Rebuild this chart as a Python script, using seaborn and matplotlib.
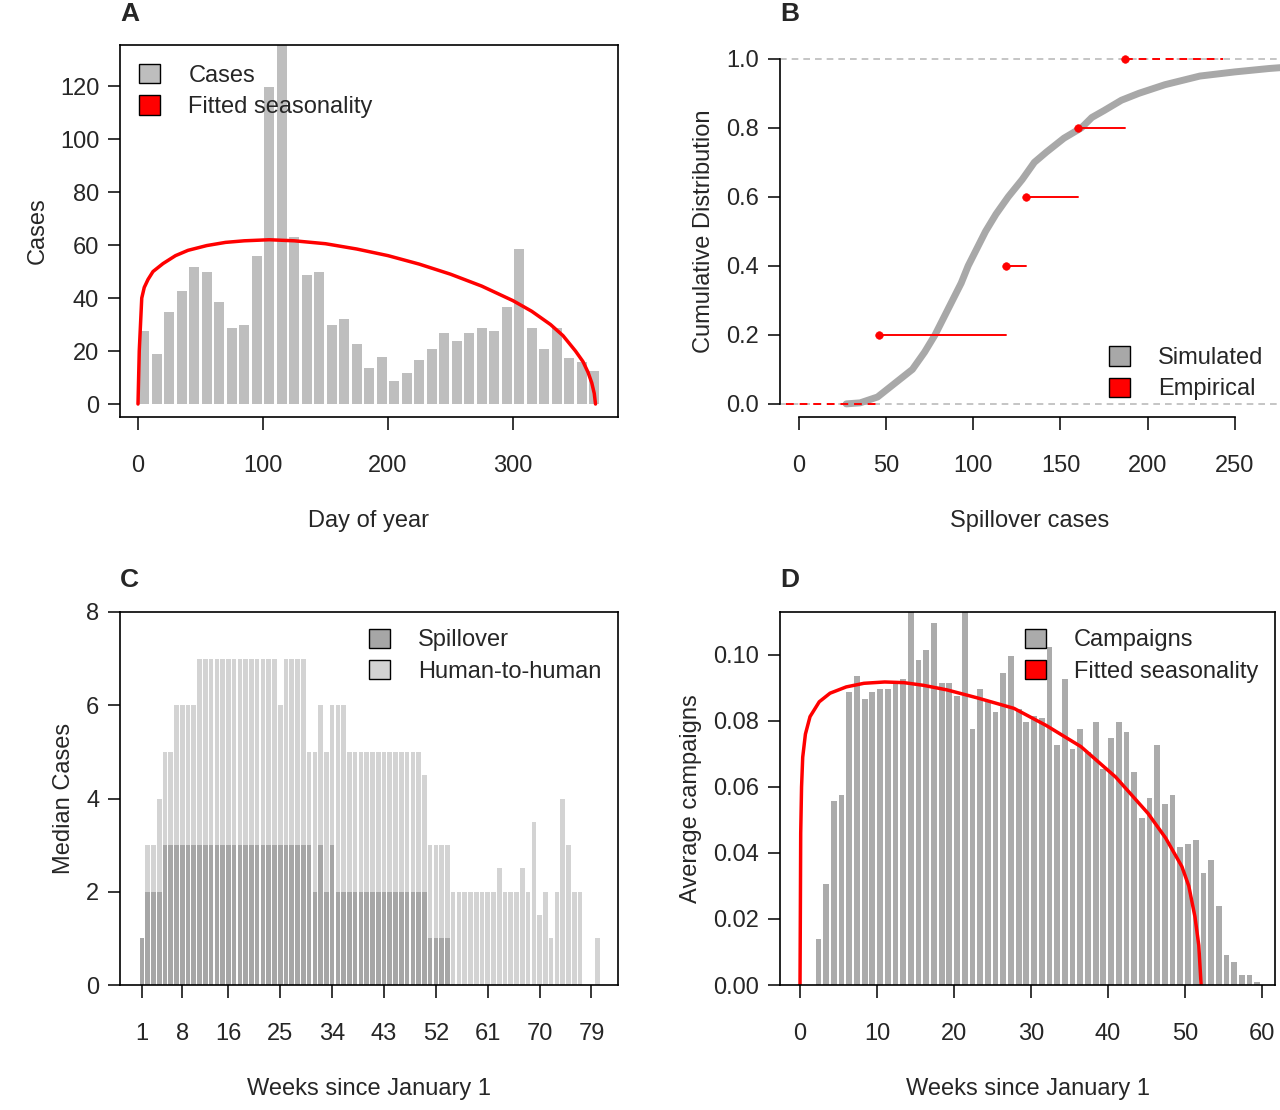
import numpy as np
import pandas as pd
import matplotlib
matplotlib.use("Agg")
import matplotlib.pyplot as plt
import seaborn as sns
from matplotlib.patches import Patch

sns.set_style("white")
plt.rcParams['font.family'] = ['Liberation Sans', 'DejaVu Sans']

# ---- Panel A data ----
a_days = [5 + 10 * k for k in range(37)]
a_cases = [27.5, 18.9, 34.7, 42.6, 51.8, 49.7, 38.6, 28.7, 29.8, 55.8,
           119.6, 140, 63, 48.7, 49.7, 29.8, 32, 22.6, 13.6, 17.6,
           8.8, 11.6, 16.6, 20.8, 26.8, 23.8, 26.8, 28.7, 27.5, 36.6,
           58.5, 28.7, 20.8, 28.7, 17.4, 15.8, 12.5]
a_fit_day = [0, 1, 2, 3, 5, 8, 12, 20, 30, 40, 55, 70, 85, 105, 125, 150, 175, 200,
             225, 250, 275, 300, 315, 330, 340, 350, 356, 360, 363, 365, 366]
a_fit_val = [0, 20, 30, 40, 44, 47, 50, 53, 56, 58, 59.8, 61, 61.6, 62, 61.6, 60.5, 58.5, 56,
             52.8, 49, 44.5, 39, 35, 30, 25.8, 20, 16, 12, 8, 4, 0]

# ---- Panel B data ----
b_sim_x = [27, 35, 45, 55, 65, 72, 78, 84, 88, 93, 97, 102, 107, 113, 120, 128, 135, 142,
           152, 162, 168, 175, 185, 195, 210, 230, 250, 270, 278]
b_sim_cdf = [0.0, 0.003, 0.02, 0.06, 0.1, 0.15, 0.2, 0.26, 0.3, 0.35, 0.4, 0.45, 0.5, 0.55,
             0.6, 0.65, 0.7, 0.73, 0.77, 0.8, 0.83, 0.85, 0.88, 0.9, 0.925, 0.95, 0.962, 0.972, 0.975]
b_emp = [46, 119, 130, 160, 187]

# ---- Panel C data ----
c_weeks = list(range(1, 81))
c_total = ([1, 3, 3, 4, 5, 5, 6, 6, 6, 6] + [7] * 14 + [6, 7, 7, 7, 7, 5, 5, 6, 5, 6, 6, 6]
           + [5] * 13 + [4.5, 3, 3, 3, 3]
           + [2, 2, 2, 2, 2, 2, 2, 2, 2.5, 2, 2, 2, 2.5, 2, 3.5, 1.5, 2, 1, 2, 4, 3, 2, 2]
           + [0, 0, 1])
c_spill = ([1, 2, 2, 2] + [3] * 26 + [2, 3, 2, 3] + [2] * 16 + [1] * 4 + [0] * 26)

# ---- Panel D data ----
d_weeks = [2.4 + i for i in range(58)]
d_camp = [0.0139, 0.0306, 0.0556, 0.0576, 0.0889, 0.0936, 0.0867, 0.0887, 0.0896, 0.0896,
          0.0916, 0.0927, 0.115, 0.0985, 0.1015, 0.1096, 0.0916, 0.0916, 0.0876, 0.115,
          0.0776, 0.0896, 0.0857, 0.0828, 0.0944, 0.0997, 0.0836, 0.0796, 0.0816, 0.0808,
          0.1025, 0.0727, 0.0927, 0.0715, 0.0776, 0.0707, 0.0796, 0.0654, 0.0747, 0.0796,
          0.0767, 0.0644, 0.0507, 0.0567, 0.0727, 0.0547, 0.0576, 0.0419, 0.0426, 0.0440,
          0.0339, 0.0379, 0.0240, 0.0091, 0.0070, 0.0030, 0.0030, 0.0010]
d_fit_w = [0, 0.05, 0.09, 0.2, 0.35, 0.7, 1.3, 2.5, 3.9, 6, 8.3, 11, 13.5, 16, 19.1, 23, 27.8,
           32, 36.5, 41, 45.2, 47.5, 49.6, 50.5, 51.3, 51.8, 52.1]
d_fit_v = [0, 0.025, 0.046, 0.060, 0.069, 0.076, 0.0813, 0.0858, 0.0884, 0.0903, 0.0914, 0.0918,
           0.0916, 0.0908, 0.0894, 0.0870, 0.0838, 0.0786, 0.0722, 0.0630, 0.0520, 0.0445, 0.0359,
           0.0300, 0.0207, 0.012, 0]

FS = 17
fig = plt.figure(figsize=(12.8, 11.1), dpi=100)
def mkax(l, t, r, b):
    return fig.add_axes([l / 1280, (1110 - b) / 1110, (r - l) / 1280, (b - t) / 1110])

axA = mkax(120, 45, 618, 417)
axB = mkax(780, 45, 1280, 417)
axC = mkax(120, 612, 618, 985)
axD = mkax(780, 612, 1275, 985)

def style(ax):
    for s in ax.spines.values():
        s.set_color("black"); s.set_linewidth(1.2)
    ax.tick_params(axis="both", direction="out", length=9, width=1.1, color="black",
                   labelsize=FS, left=True, bottom=True)
    ax.tick_params(axis="x", pad=18)
    ax.tick_params(axis="y", pad=6)

def leg(ax, handles, labels, loc, **kw):
    ax.legend(handles, labels, loc=loc, frameon=False, fontsize=FS, handlelength=0.9,
              handleheight=0.9, handletextpad=1.2, labelspacing=0.35, **kw)

# A
sns.barplot(x=a_days, y=a_cases, native_scale=True, color="#BEBEBE", saturation=1,
            width=0.8, linewidth=0, errorbar=None, ax=axA)
sns.lineplot(x=a_fit_day, y=a_fit_val, color="red", lw=2.5, ax=axA, sort=False)
axA.set_xlim(-14.4, 384); axA.set_ylim(-4.9, 135.5)
axA.set_xticks([0, 100, 200, 300]); axA.set_yticks(range(0, 121, 20))
axA.set_xlabel("Day of year", fontsize=FS, labelpad=24); axA.set_ylabel("Cases", fontsize=FS, labelpad=8)
style(axA)
leg(axA, [Patch(fc="#BEBEBE", ec="black"), Patch(fc="red", ec="black")],
    ["Cases", "Fitted seasonality"], "upper left", borderaxespad=0.4)

# B
axB.axhline(0, color="#BBBBBB", ls=(0, (4, 3)), lw=1.2)
axB.axhline(1, color="#BBBBBB", ls=(0, (4, 3)), lw=1.2)
sns.lineplot(x=b_sim_x, y=b_sim_cdf, color="#A8A8A8", lw=5, ax=axB, sort=False,
             solid_capstyle="round")
ys = [0.2, 0.4, 0.6, 0.8, 1.0]
axB.plot([-7.5, b_emp[0]], [0, 0], color="red", ls=(0, (4, 3)), lw=1.4)
for i, (x, y) in enumerate(zip(b_emp, ys)):
    if i < 4:
        axB.plot([x, b_emp[i + 1]], [y, y], color="red", lw=1.4)
    else:
        axB.plot([x, 243], [y, y], color="red", ls=(0, (4, 3)), lw=1.4)
sns.scatterplot(x=b_emp, y=ys, color="red", s=30, ax=axB, zorder=5, edgecolor="red")
axB.set_xlim(-11, 276); axB.set_ylim(-0.038, 1.04)
axB.set_xticks(range(0, 251, 50)); axB.set_yticks([0, 0.2, 0.4, 0.6, 0.8, 1.0])
axB.set_yticklabels(["0.0", "0.2", "0.4", "0.6", "0.8", "1.0"])
axB.set_xlabel("Spillover cases", fontsize=FS, labelpad=24)
axB.set_ylabel("Cumulative Distribution", fontsize=FS, labelpad=8)
style(axB)
axB.spines["top"].set_visible(False); axB.spines["right"].set_visible(False)
axB.spines["bottom"].set_bounds(0, 250); axB.spines["left"].set_bounds(0, 1)
leg(axB, [Patch(fc="#A8A8A8", ec="black"), Patch(fc="red", ec="black")],
    ["Simulated", "Empirical"], "lower right", borderaxespad=0.3)

# C
sns.barplot(x=c_weeks, y=c_total, native_scale=True, color="#D3D3D3", saturation=1,
            width=0.8, linewidth=0, errorbar=None, ax=axC)
sns.barplot(x=c_weeks, y=c_spill, native_scale=True, color="#A6A6A6", saturation=1,
            width=0.8, linewidth=0, errorbar=None, ax=axC)
axC.set_xlim(-2.8, 83.6); axC.set_ylim(0, 8)
axC.set_xticks([1, 8, 16, 25, 34, 43, 52, 61, 70, 79]); axC.set_yticks(range(0, 9, 2))
axC.set_xlabel("Weeks since January 1", fontsize=FS, labelpad=24)
axC.set_ylabel("Median Cases", fontsize=FS, labelpad=8)
style(axC)
leg(axC, [Patch(fc="#A6A6A6", ec="black"), Patch(fc="#D3D3D3", ec="black")],
    ["Spillover", "Human-to-human"], "upper right", borderaxespad=0.3)

# D
sns.barplot(x=d_weeks, y=d_camp, native_scale=True, color="#ABABAB", saturation=1,
            width=0.75, linewidth=0, errorbar=None, ax=axD)
sns.lineplot(x=d_fit_w, y=d_fit_v, color="red", lw=2.5, ax=axD, sort=False)
axD.set_xlim(-2.6, 61.7); axD.set_ylim(0, 0.113)
axD.set_xticks(range(0, 61, 10)); axD.set_yticks(np.arange(0, 0.101, 0.02))
axD.set_yticklabels([f"{v:.2f}" for v in np.arange(0, 0.101, 0.02)])
axD.set_xlabel("Weeks since January 1", fontsize=FS, labelpad=24)
axD.set_ylabel("Average campaigns", fontsize=FS, labelpad=8)
style(axD)
leg(axD, [Patch(fc="#ABABAB", ec="black"), Patch(fc="red", ec="black")],
    ["Campaigns", "Fitted seasonality"], "upper right", borderaxespad=0.3)

for lab, x, y in [("A", 120, 14), ("B", 780, 14), ("C", 120, 580), ("D", 780, 580)]:
    fig.text(x / 1280, 1 - y / 1110, lab, fontsize=19, fontweight="bold", ha="left", va="center")

fig.savefig("out.png", dpi=100)
